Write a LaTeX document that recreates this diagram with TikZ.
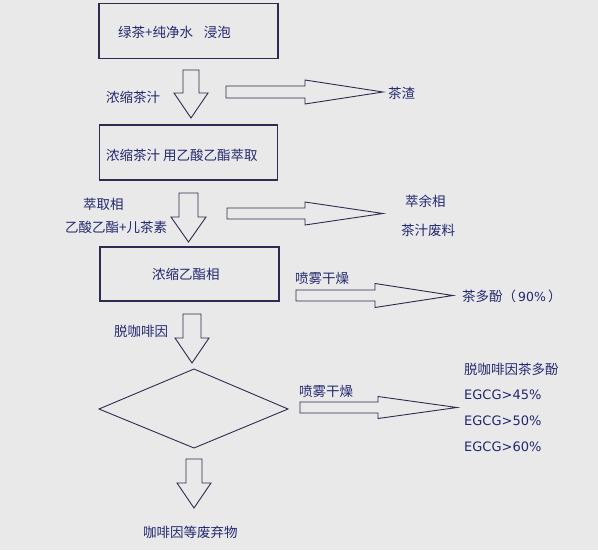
\documentclass[tikz,border=0pt]{standalone}
\usepackage{fontspec}
\setmainfont{Noto Sans CJK SC}
\newfontfamily\latfont{DejaVu Sans}
\definecolor{bgc}{RGB}{233,233,233}
\definecolor{linec}{RGB}{44,44,82}
\definecolor{txtc}{RGB}{36,40,112}
\tikzset{
  lbl/.style={anchor=west, inner sep=0pt, text=txtc, font=\fontsize{13.5}{16}\selectfont},
  latlbl/.style={lbl, font=\fontsize{13}{16}\selectfont\latfont},
  stepbox/.style={draw=linec, line width=1.2pt, inner sep=0pt},
  blockarrow/.style={draw=linec, line width=0.9pt, line join=miter}
}
% right block arrow: x0, xb, xt, yc, half shaft, half head
\newcommand\myrarrow[6]{%
  \draw[blockarrow] (#1,#4-#5) -- (#2,#4-#5) -- (#2,#4-#6) -- (#3,#4) -- (#2,#4+#6) -- (#2,#4+#5) -- (#1,#4+#5) -- cycle;}
% down block arrow: xc, y0, yb, yt, half shaft, half head
\newcommand\mydarrow[6]{%
  \draw[blockarrow] (#1-#5,#2) -- (#1+#5,#2) -- (#1+#5,#3) -- (#1+#6,#3) -- (#1,#4) -- (#1-#6,#3) -- (#1-#5,#3) -- cycle;}
\begin{document}
\begin{tikzpicture}[x=1pt,y=-1pt]
\fill[bgc] (0,0) rectangle (598,550);
\useasboundingbox (0,0) rectangle (598,550);

% boxes
\node[stepbox, minimum width=179pt, minimum height=55pt] (box1) at (188.5,31) {};
\node[stepbox, minimum width=178pt, minimum height=55pt] (box2) at (188.5,152.5) {};
\node[stepbox, minimum width=179pt, minimum height=54pt] (box3) at (189.5,274) {};

% diamond
\coordinate (dl) at (99,409);
\coordinate (dt) at (194,369);
\coordinate (dr) at (288,409);
\coordinate (db) at (194,448);
\draw[draw=linec, line width=0.9pt] (dl) -- (dt) -- (dr) -- (db) -- cycle;

% down arrows
\mydarrow{191}{70}{93}{118}{8}{17}
\mydarrow{188.5}{193}{217}{242}{9.5}{17.5}
\mydarrow{192}{314}{338}{363}{9}{17}
\mydarrow{194}{459}{483}{508}{8}{17}

% right arrows
\myrarrow{226}{305}{383}{92}{6}{12}
\myrarrow{227}{305}{383}{213.5}{5.5}{11.5}
\myrarrow{296}{375}{453}{295.5}{5.5}{12}
\myrarrow{300}{378}{457}{407.5}{5.5}{11}

% texts
\node[lbl] (t1) at (118,32) {绿茶+纯净水\hspace{0.8em}浸泡};
\node[lbl] (l1) at (106,97) {浓缩茶汁};
\node[lbl] (r1) at (388,93) {茶渣};
\node[lbl] (t2) at (106,155) {浓缩茶汁 用乙酸乙酯萃取};
\node[lbl] (l2a) at (83,204) {萃取相};
\node[lbl] (l2b) at (65,227) {乙酸乙酯+儿茶素};
\node[lbl] (r2a) at (405,201) {萃余相};
\node[lbl] (r2b) at (401,230) {茶汁废料};
\node[lbl] (t3) at (152,274) {浓缩乙酯相};
\node[lbl] (l3) at (295,278) {喷雾干燥};
\node[lbl] (r3) at (462,296) {茶多酚（\hspace{0.15em}{\latfont\fontsize{12.5}{15}\selectfont 90\%}\hspace{0.15em}）};
\node[lbl] (l4) at (114,331) {脱咖啡因};
\node[lbl] (l5) at (299,391) {喷雾干燥};
\node[lbl] (r4) at (464,369) {脱咖啡因茶多酚};
\node[latlbl] (r5) at (464,395) {EGCG>45\%};
\node[latlbl] (r6) at (464,421) {EGCG>50\%};
\node[latlbl] (r7) at (464,447) {EGCG>60\%};
\node[lbl] (bt) at (143,532) {咖啡因等废弃物};
\end{tikzpicture}
\end{document}
